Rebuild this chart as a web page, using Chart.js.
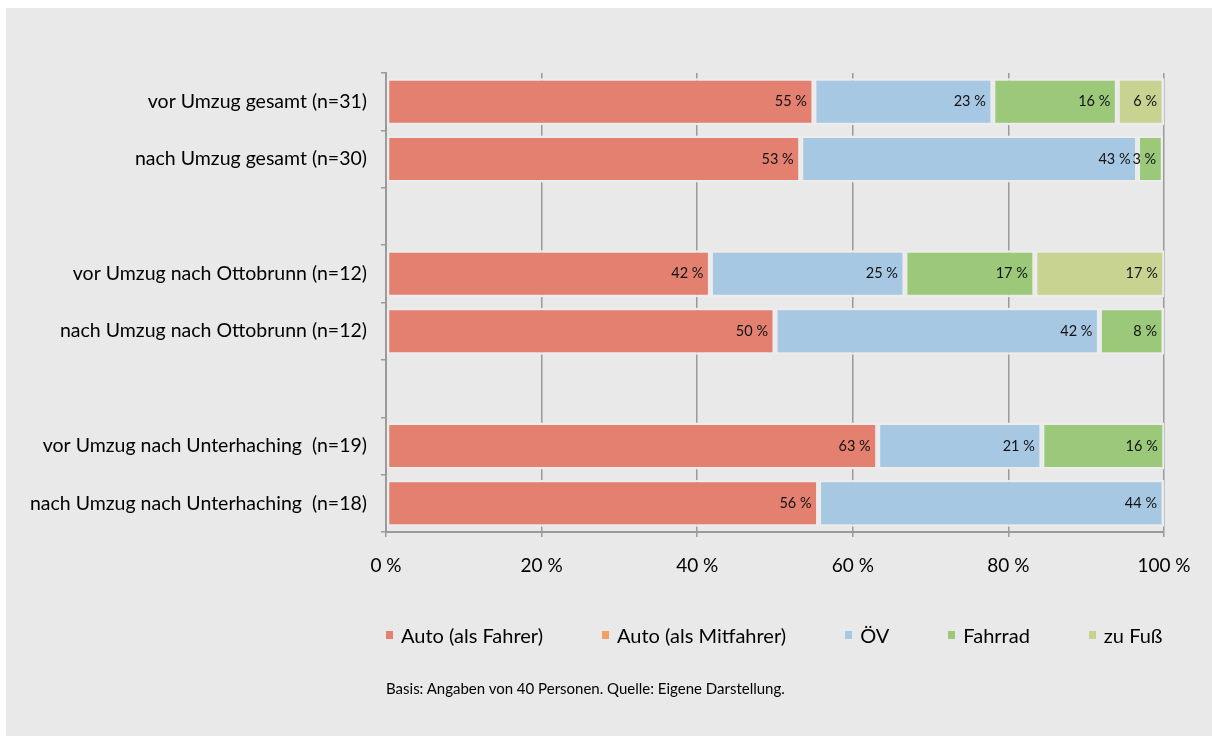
<!DOCTYPE html>
<html>
<head>
<meta charset="utf-8">
<script src="https://cdn.jsdelivr.net/npm/chart.js@4.4.1/dist/chart.umd.min.js"></script>
<style>
  html, body { margin: 0; padding: 0; background: #ffffff; }
  #panel { position: absolute; left: 6px; top: 8px; width: 1206px; height: 728px; background: #e9e9e9; }
  #chart { position: absolute; left: 0; top: 0; }
  #legend { position: absolute; left: 380px; top: 616px; display: flex; font-family: Lato, sans-serif; font-size: 20px; line-height: 22px; color: #000; white-space: nowrap; }
  #legend .item { display: flex; align-items: center; margin-right: 59px; }
  #legend .box { width: 7px; height: 8px; margin-right: 8px; }
  #note { position: absolute; left: 380px; top: 671px; font-family: Lato, sans-serif; font-size: 15px; color: #000; white-space: nowrap; }
</style>
</head>
<body>
<div id="panel">
  <canvas id="chart" width="1206" height="728"></canvas>
  <div id="legend"></div>
  <div id="note">Basis: Angaben von 40 Personen. Quelle: Eigene Darstellung.</div>
</div>
<script>
// categories (empty rows are the gaps between the groups)
const categories = [
    'vor Umzug gesamt (n=31)',
    'nach Umzug gesamt (n=30)',
    '',
    'vor Umzug nach Ottobrunn (n=12)',
    'nach Umzug nach Ottobrunn (n=12)',
    '',
    'vor Umzug nach Unterhaching  (n=19)',
    'nach Umzug nach Unterhaching  (n=18)'
];

// shares in percent
const autoFahrer    = [55, 53.3, null, 41.7, 50,   null, 63.2, 55.6];
const autoMitfahrer = [0,  0,    null, 0,    0,    null, 0,    0];
const oev           = [23, 43.3, null, 25,   41.7, null, 21.1, 44.4];
const fahrrad       = [16, 3.3,  null, 16.7, 8.3,  null, 15.8, 0];
const zuFuss        = [6,  0,    null, 16.7, 0,    null, 0,    0];

const xTicks = [0, 20, 40, 60, 80, 100];

const gridGray = '#9a9a9a';

// value labels inside the end of each segment
const valueLabels = {
    id: 'valueLabels',
    afterDatasetsDraw(chart) {
        const ctx = chart.ctx;
        ctx.save();
        ctx.font = '14.5px Lato, sans-serif';
        ctx.fillStyle = '#111';
        ctx.textAlign = 'right';
        ctx.textBaseline = 'middle';
        chart.data.datasets.forEach((ds, i) => {
            const meta = chart.getDatasetMeta(i);
            meta.data.forEach((bar, j) => {
                const v = ds.data[j];
                if (!v) return;
                ctx.fillText(Math.round(v) + ' %', bar.x - 7, bar.y);
            });
        });
        ctx.restore();
    }
};

const ctx = document.getElementById('chart').getContext('2d');
const chart = new Chart(ctx, {
    type: 'bar',
    data: {
        labels: categories,
        datasets: [
            { label: 'Auto (als Fahrer)', data: autoFahrer, backgroundColor: '#e48070' },
            { label: 'Auto (als Mitfahrer)', data: autoMitfahrer, backgroundColor: '#f2a064' },
            { label: 'ÖV', data: oev, backgroundColor: '#a7c8e3' },
            { label: 'Fahrrad', data: fahrrad, backgroundColor: '#9bc979' },
            { label: 'zu Fuß', data: zuFuss, backgroundColor: '#c8d392' }
        ]
    },
    options: {
        indexAxis: 'y',
        responsive: false,
        animation: false,
        datasets: {
            bar: {
                borderWidth: 2.5,
                borderColor: '#ececec',
                borderSkipped: false,
                categoryPercentage: 1,
                barPercentage: 0.82
            }
        },
        layout: { padding: { left: 0, top: 65, right: 48, bottom: 144 } },
        plugins: {
            legend: { display: false },
            tooltip: { enabled: false }
        },
        scales: {
            x: {
                stacked: true,
                min: 0,
                max: 100,
                afterBuildTicks: axis => { axis.ticks = xTicks.map(v => ({ value: v })); },
                afterFit: axis => { axis.height = 60; },
                border: { color: gridGray, width: 2 },
                grid: { color: gridGray, lineWidth: 1.5, tickLength: 5, drawOnChartArea: true },
                ticks: {
                    padding: 17,
                    color: '#000',
                    font: { family: 'Lato, sans-serif', size: 19 },
                    callback: v => v + ' %'
                }
            },
            y: {
                stacked: true,
                afterFit: axis => { axis.width = 380; },
                border: { color: gridGray, width: 2 },
                grid: { color: gridGray, lineWidth: 1.5, tickLength: 5, drawOnChartArea: false },
                ticks: {
                    padding: 14,
                    color: '#000',
                    font: { family: 'Lato, sans-serif', size: 19.5 }
                }
            }
        }
    },
    plugins: [valueLabels]
});

// legend built from the chart's own legend items
const legendEl = document.getElementById('legend');
chart.options.plugins.legend.labels.generateLabels(chart).forEach(item => {
    const el = document.createElement('div');
    el.className = 'item';
    const box = document.createElement('span');
    box.className = 'box';
    box.style.background = item.fillStyle;
    const txt = document.createElement('span');
    txt.textContent = item.text;
    el.appendChild(box);
    el.appendChild(txt);
    legendEl.appendChild(el);
});
</script>
</body>
</html>
